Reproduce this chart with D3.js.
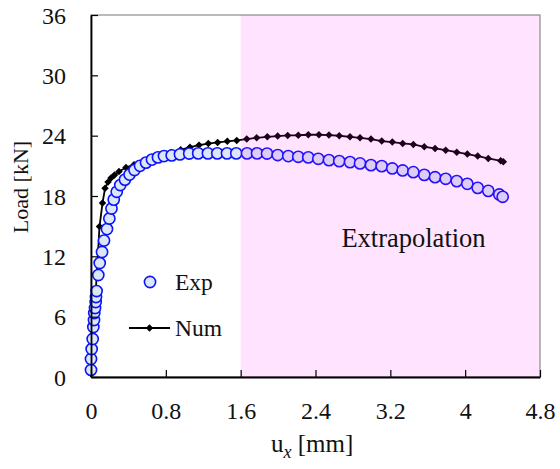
<!DOCTYPE html>
<html>
<head>
<meta charset="utf-8">
<script src="https://cdn.jsdelivr.net/npm/d3@7/dist/d3.min.js"></script>
<style>
  html, body { margin: 0; padding: 0; background: #fff; }
  svg { display: block; font-family: "Liberation Serif", "DejaVu Serif", serif; }
</style>
</head>
<body>
<svg id="chart" width="560" height="469"></svg>
<script>
// Experimental load–displacement record (u_x in mm, load in kN)
const expUx = [0.000, 0.000, 0.007, 0.018, 0.025, 0.032, 0.035, 0.043, 0.050, 0.053, 0.060,
  0.078, 0.093, 0.118, 0.139, 0.171, 0.196, 0.219, 0.243, 0.275, 0.313, 0.363, 0.412, 0.465,
  0.524, 0.588, 0.652, 0.716, 0.780, 0.863, 0.951, 1.050, 1.146, 1.250, 1.350, 1.454, 1.553,
  1.668, 1.775, 1.882, 1.996, 2.109, 2.216, 2.323, 2.430, 2.544, 2.654, 2.769, 2.876, 2.993,
  3.108, 3.221, 3.332, 3.446, 3.563, 3.678, 3.792, 3.910, 4.023, 4.134, 4.247, 4.365, 4.401];
const expLoad = [0.70, 1.79, 2.78, 3.78, 4.97, 5.67, 6.36, 6.86, 7.46, 7.95, 8.55,
  10.14, 11.33, 12.43, 13.57, 14.71, 15.76, 16.75, 17.64, 18.42, 19.09, 19.63, 20.13, 20.58,
  21.00, 21.32, 21.62, 21.84, 21.97, 22.04, 22.14, 22.22, 22.24, 22.24, 22.24, 22.24, 22.24,
  22.24, 22.24, 22.22, 22.07, 21.97, 21.90, 21.84, 21.70, 21.57, 21.47, 21.37, 21.24, 21.07,
  20.97, 20.74, 20.54, 20.37, 20.10, 19.87, 19.71, 19.48, 19.21, 18.81, 18.51, 18.15, 17.92];

// Numerical prediction
const numUx = [0.000, 0.030, 0.060, 0.091, 0.123, 0.150, 0.182, 0.214, 0.251, 0.299, 0.374,
  0.460, 0.556, 0.652, 0.754, 0.855, 0.959, 1.058, 1.155, 1.254, 1.354, 1.457, 1.558,
  1.665, 1.771, 1.885, 1.996, 2.103, 2.216, 2.323, 2.437, 2.544, 2.654, 2.769, 2.876, 2.993,
  3.108, 3.221, 3.332, 3.446, 3.563, 3.678, 3.792, 3.910, 4.023, 4.134, 4.247, 4.380, 4.408];
const numLoad = [0.00, 5.00, 10.00, 14.96, 17.30, 18.76, 19.38, 19.78, 20.08, 20.43, 20.83,
  21.12, 21.42, 21.72, 22.02, 22.32, 22.59, 22.86, 23.06, 23.21, 23.33, 23.44, 23.53,
  23.66, 23.79, 23.89, 23.96, 24.02, 24.04, 24.09, 24.09, 24.06, 23.99, 23.89, 23.79, 23.66,
  23.46, 23.36, 23.23, 23.13, 22.89, 22.73, 22.56, 22.36, 22.17, 21.97, 21.74, 21.50, 21.40];

// Axis ticks and shaded extrapolation range
const xTicks = [0, 0.8, 1.6, 2.4, 3.2, 4, 4.8];
const yTicks = [0, 6, 12, 18, 24, 30, 36];
const extrapolationRange = [1.6, 4.8];

const svg = d3.select("#chart");
const x = d3.scaleLinear().domain([0, 4.8]).range([91, 540]);
const y = d3.scaleLinear().domain([0, 36]).range([377, 15]);

const expData = expUx.map((u, i) => ({ u, p: expLoad[i] }));
const numData = numUx.map((u, i) => ({ u, p: numLoad[i] }));

// diamond marker: a square turned by 45 degrees
const diamond = d3.symbol(d3.symbolSquare, 28);

// plot frame (top / right)
svg.append("rect")
  .attr("x", x(0)).attr("y", y(36))
  .attr("width", x(4.8) - x(0)).attr("height", y(0) - y(36))
  .attr("fill", "none").attr("stroke", "#8c8c8c").attr("stroke-width", 1.2);

// numerical curve with diamond markers
const line = d3.line().x(d => x(d.u)).y(d => y(d.p));
svg.append("path").datum(numData)
  .attr("d", line).attr("fill", "none")
  .attr("stroke", "#000").attr("stroke-width", 1.8);
svg.append("g").selectAll("path").data(numData.slice(3)).join("path")
  .attr("transform", d => `translate(${x(d.u)},${y(d.p)}) rotate(45)`)
  .attr("d", diamond)
  .attr("fill", "#000");

// experimental points
svg.append("g").selectAll("circle").data(expData).join("circle")
  .attr("cx", d => x(d.u)).attr("cy", d => y(d.p)).attr("r", 5.6)
  .attr("fill", "#dce6f4").attr("stroke", "#0a14ff").attr("stroke-width", 1.6);

// extrapolation band
svg.append("rect")
  .attr("x", x(extrapolationRange[0])).attr("y", y(36))
  .attr("width", x(extrapolationRange[1]) - x(extrapolationRange[0]))
  .attr("height", y(0) - y(36))
  .attr("fill", "#ff00ff").attr("fill-opacity", 0.11);

svg.append("text")
  .attr("x", 413.5).attr("y", 247).attr("text-anchor", "middle")
  .attr("font-size", 26.5).attr("fill", "#111").text("Extrapolation");

// axes
const xAxis = d3.axisBottom(x).tickValues(xTicks).tickSizeInner(-7).tickSizeOuter(0)
  .tickFormat(d => d3.format("")(d));
const gx = svg.append("g").attr("transform", `translate(0,${y(0)})`).call(xAxis);
gx.select(".domain").attr("stroke", "#000").attr("stroke-width", 1.8);
gx.selectAll(".tick line").attr("stroke", "#000").attr("stroke-width", 1.2);
gx.selectAll(".tick text").attr("font-size", 24).attr("fill", "#111")
  .attr("font-family", "Liberation Serif, serif").attr("y", 42).attr("dy", 0);

const yAxis = d3.axisLeft(y).tickValues(yTicks).tickSizeInner(-7).tickSizeOuter(0);
const gy = svg.append("g").attr("transform", `translate(${x(0)},0)`).call(yAxis);
gy.select(".domain").attr("stroke", "#000").attr("stroke-width", 1.8);
gy.selectAll(".tick line").attr("stroke", "#000").attr("stroke-width", 1.2);
gy.selectAll(".tick text").attr("font-size", 24).attr("fill", "#111")
  .attr("font-family", "Liberation Serif, serif").attr("x", -25).attr("dy", 8);

// axis titles
const xt = svg.append("text").attr("x", 271).attr("y", 452)
  .attr("font-size", 25).attr("fill", "#111");
xt.append("tspan").text("u");
xt.append("tspan").attr("dy", 6).attr("font-size", 18).attr("font-style", "italic").text("x");
xt.append("tspan").attr("dy", -6).text(" [mm]");

svg.append("text")
  .attr("transform", "translate(28,187) rotate(-90)")
  .attr("text-anchor", "middle").attr("font-size", 22).attr("fill", "#111")
  .text("Load [kN]");

// legend
const lg = svg.append("g");
lg.append("circle").attr("cx", 150).attr("cy", 282).attr("r", 5.6)
  .attr("fill", "#dce6f4").attr("stroke", "#0a14ff").attr("stroke-width", 1.6);
lg.append("text").attr("x", 175).attr("y", 290).attr("font-size", 23.5).attr("fill", "#111").text("Exp");
lg.append("line").attr("x1", 129).attr("x2", 170).attr("y1", 328).attr("y2", 328)
  .attr("stroke", "#000").attr("stroke-width", 1.8);
lg.append("path").attr("transform", "translate(149.5,328) rotate(45)")
  .attr("d", diamond).attr("fill", "#000");
lg.append("text").attr("x", 175).attr("y", 336).attr("font-size", 23.5).attr("fill", "#111").text("Num");
</script>
</body>
</html>
